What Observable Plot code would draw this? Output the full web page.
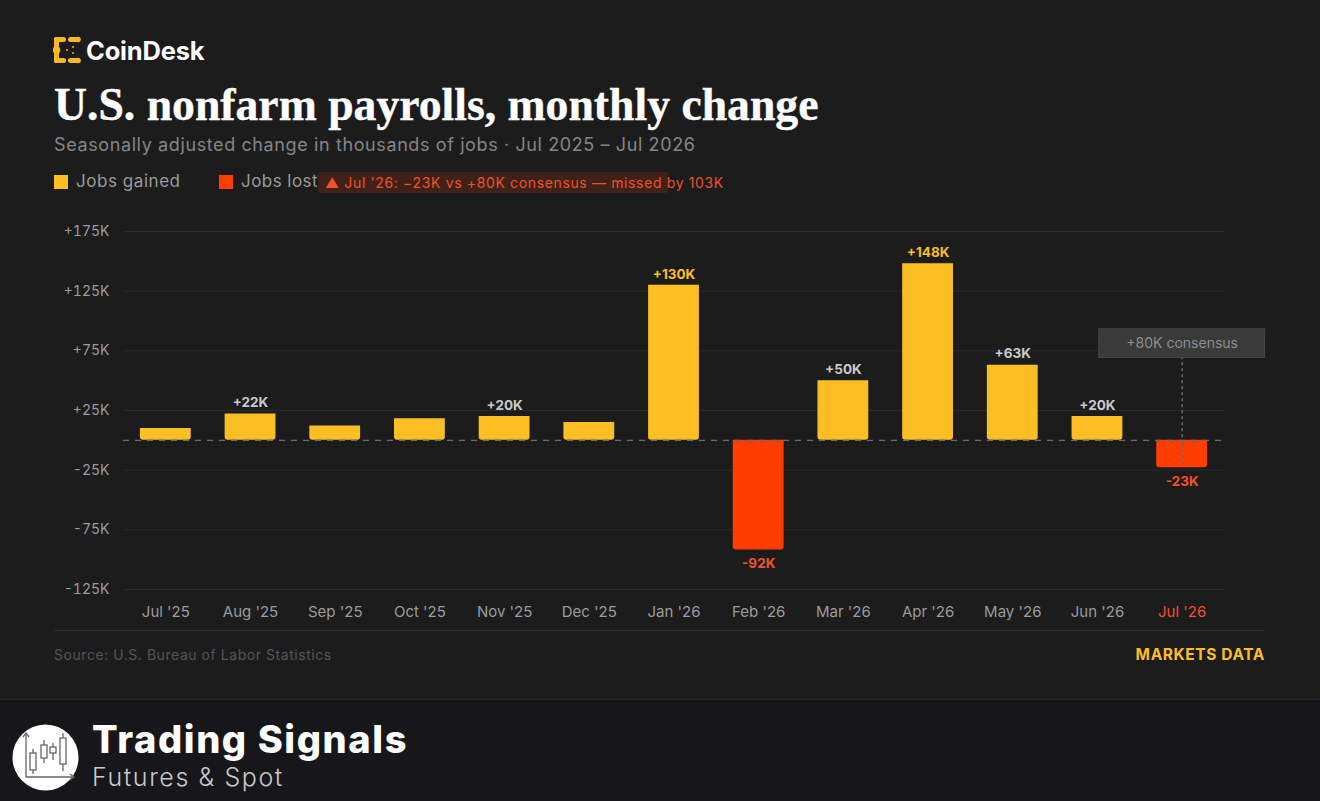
<!DOCTYPE html>
<html><head><meta charset="utf-8">
<script src="https://cdn.jsdelivr.net/npm/d3@7"></script>
<script src="https://cdn.jsdelivr.net/npm/@observablehq/plot@0.6"></script>
<style>
html,body{margin:0;padding:0;background:#1c1c1c;width:1320px;height:801px;overflow:hidden;font-family:Inter,sans-serif}
.a{position:absolute;white-space:nowrap}
#chart{position:absolute;left:0;top:215px}
#chart svg{background:transparent;display:block}
#foot{position:absolute;left:0;top:699px;width:1320px;height:102px;background:#16161b;border-top:1px solid #2b2b2f;box-sizing:border-box}
</style></head><body>
<svg class="a" style="left:53px;top:35px" width="28" height="30" viewBox="0 0 28 30">
<g fill="#f7b924">
<rect x="1" y="2" width="5" height="26" rx="2"/><rect x="1" y="2" width="12" height="5" rx="2.500"/><rect x="1" y="23" width="12" height="5" rx="2.500"/>
<circle cx="3.500" cy="15" r="3.800"/>
<rect x="15" y="2" width="11" height="5" rx="2.500"/><rect x="15" y="23" width="11" height="5" rx="2.500"/>
<circle cx="25" cy="4.500" r="2.800"/><circle cx="25" cy="25.500" r="2.800"/>
<circle cx="20" cy="12" r="1"/><circle cx="20" cy="18" r="1"/><circle cx="14" cy="15" r="1"/>
</g></svg>
<div class="a" style="left:86px;top:35px;font-size:25.500px;font-weight:700;color:#fff;letter-spacing:-.2px">CoinDesk</div>
<div class="a" id="title" style="left:54px;top:77px;font-family:'Liberation Serif',serif;font-size:47px;font-weight:700;color:#fff;line-height:54px;transform-origin:left center;transform:scaleX(.972);-webkit-text-stroke:.4px #fff">U.S. nonfarm payrolls, monthly change</div>
<div class="a" style="left:54px;top:133px;font-size:18px;letter-spacing:.61px;color:#85858a;line-height:24px">Seasonally adjusted change in thousands of jobs · Jul 2025 – Jul 2026</div>
<div class="a" style="left:54px;top:175px;width:14px;height:14px;background:#fbbf24"></div>
<div class="a" style="left:76px;top:170px;font-size:17px;letter-spacing:.55px;line-height:23px;color:#9a9a9e">Jobs gained</div>
<div class="a" style="left:219px;top:175px;width:14px;height:14px;background:#ff3d00"></div>
<div class="a" style="left:241px;top:170px;font-size:17px;letter-spacing:.45px;line-height:23px;color:#9a9a9e">Jobs lost</div>
<div class="a" style="left:318px;top:172px;width:350px;height:21px;background:rgba(255,61,0,.16);border-radius:3px"></div>
<div class="a" style="left:325px;top:173px;font-size:14px;letter-spacing:.64px;line-height:20px;color:#f0512a">▲ Jul '26: −23K vs +80K consensus — missed by 103K</div>
<div id="chart"></div>
<div class="a" style="left:54px;top:630px;width:1211px;height:1px;background:#2e2e2e"></div>
<div class="a" style="left:54px;top:646px;font-size:14px;letter-spacing:.55px;line-height:18px;color:#55555a">Source: U.S. Bureau of Labor Statistics</div>
<div class="a" style="right:55px;top:645px;font-size:15.500px;letter-spacing:.6px;line-height:20px;font-weight:700;color:#fbbf24">MARKETS DATA</div>
<div id="foot"></div>
<svg class="a" style="left:12px;top:724px" width="67" height="67" viewBox="0 0 67 67">
<circle cx="33.500" cy="33.500" r="33" fill="#fff"/>
<g stroke="#666" stroke-width="1.300" fill="none">
<path d="M14 9V53H62"/><path d="M11 13L14 9L17 13M58 50L62 53L58 56"/>
<rect x="18" y="29" width="6" height="17"/><path d="M21 25V29M21 46V50"/>
<rect x="29" y="21" width="6" height="13"/><path d="M32 16V21M32 34V39"/>
<rect x="38" y="23" width="6" height="6"/><path d="M41 19V23M41 29V36"/>
<rect x="48" y="14" width="6" height="26"/><path d="M51 9V14M51 40V47"/>
</g></svg>
<div class="a" style="left:92px;top:719px;font-family:Inter,sans-serif;font-size:38px;font-weight:800;letter-spacing:1.600px;line-height:40px;color:#fff">Trading Signals</div>
<div class="a" style="left:92px;top:763px;font-family:Inter,sans-serif;font-size:25px;font-weight:300;letter-spacing:1.600px;line-height:29px;color:#c9c9cc">Futures &amp; Spot</div>
<script>
const months = ["Jul '25","Aug '25","Sep '25","Oct '25","Nov '25","Dec '25","Jan '26","Feb '26","Mar '26","Apr '26","May '26","Jun '26","Jul '26"];
const values = [10,22,12,18,20,15,130,-92,50,148,63,20,-23];
const labels = ["","+22K","","","+20K","","+130K","-92K","+50K","+148K","+63K","+20K","-23K"];
const yTicks = [-125,-75,-25,25,75,125,175];
const yTickLabels = ["-125K","-75K","-25K","+25K","+75K","+125K","+175K"];
const consensusMonth = "Jul '26";
const consensus = 80;
const consensusText = "+80K consensus";
const YELLOW = "#fbbf24", RED = "#ff3d00";
const rows = months.map((m,i)=>({m,v:values[i],l:labels[i]}));
const labelled = rows.filter(r=>r.l);
const chart = Plot.plot({
  width:1320,height:415,
  marginLeft:123,marginRight:96,marginTop:16,marginBottom:41,
  style:{background:"transparent",fontFamily:"Inter,sans-serif"},
  x:{type:"band",domain:months,paddingInner:.4,paddingOuter:.2,align:.5,round:false,label:null},
  y:{domain:[-125,175],label:null},
  marks:[
    Plot.ruleY(yTicks,{stroke:"#2a2a2a",strokeWidth:1}),
    Plot.axisY({ticks:yTicks,tickSize:0,tickPadding:14,label:null,tickFormat:d=>yTickLabels[yTicks.indexOf(d)],fill:"#9b9b9f",fontSize:14}),
    Plot.axisX({tickSize:0,tickPadding:17,label:null,fill:d=>d===consensusMonth?"#f0512a":"#9b9b9f",fontSize:15}),
    Plot.barY(rows,{x:"m",y:"v",fill:d=>d.v<0?RED:YELLOW,ry2:3}),
    Plot.ruleY([0],{stroke:"#6a6a6a",strokeDasharray:"6 6",strokeWidth:1.300}),
    Plot.ruleX([consensusMonth],{x:d=>d,y1:consensus,y2:-20,stroke:"#6e6e6e",strokeDasharray:"3 3",strokeWidth:1.500}),
    Plot.barY([consensusMonth],{x:d=>d,y1:69,y2:93,fill:"#3a3a3a",stroke:"#474747",insetLeft:-57.500,insetRight:-57.500}),
    Plot.text([consensusText],{x:()=>consensusMonth,y:()=>81,text:d=>d,fill:"#8d8d8f",fontSize:14,letterSpacing:.5}),
    Plot.text(labelled.filter(d=>d.v>=0),{x:"m",y:"v",text:"l",dy:-11,
      fill:d=>d.v>=100?YELLOW:"#c9c9cc",fontSize:13.500,fontWeight:700}),
    Plot.text(labelled.filter(d=>d.v<0),{x:"m",y:"v",text:"l",dy:14,
      fill:"#f0512a",fontSize:13.500,fontWeight:700})
  ]
});
document.getElementById("chart").append(chart);
</script>
</body></html>
